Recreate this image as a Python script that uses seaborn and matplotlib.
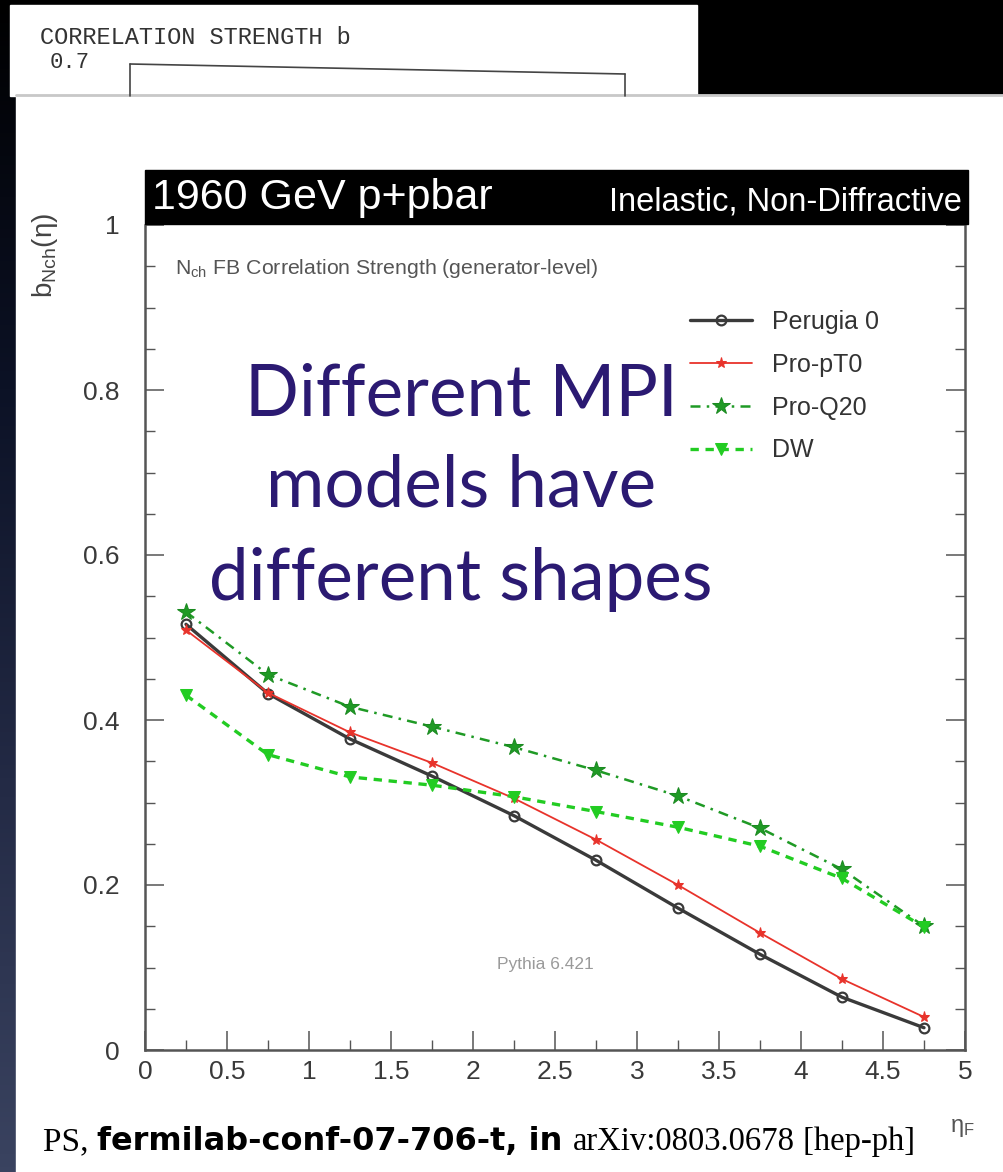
import numpy as np
import pandas as pd
import matplotlib
matplotlib.use("Agg")
import matplotlib.pyplot as plt
from matplotlib.patches import Rectangle
from matplotlib.lines import Line2D
from matplotlib.ticker import MultipleLocator
import seaborn as sns

# values
eta = [0.25, 0.75, 1.25, 1.75, 2.25, 2.75, 3.25, 3.75, 4.25, 4.75]
perugia0 = [0.516, 0.432, 0.377, 0.332, 0.284, 0.230, 0.172, 0.116, 0.064, 0.027]
pro_pt0 = [0.509, 0.433, 0.385, 0.348, 0.305, 0.255, 0.200, 0.142, 0.086, 0.040]
pro_q20 = [0.531, 0.455, 0.416, 0.392, 0.367, 0.339, 0.308, 0.269, 0.219, 0.150]
dw = [0.430, 0.358, 0.331, 0.321, 0.307, 0.289, 0.270, 0.247, 0.208, 0.149]
tunes = ["Perugia 0", "Pro-pT0", "Pro-Q20", "DW"]

xticks = [0, 0.5, 1, 1.5, 2, 2.5, 3, 3.5, 4, 4.5, 5]
xtick_labels = ["0", "0.5", "1", "1.5", "2", "2.5", "3", "3.5", "4", "4.5", "5"]
yticks = [0, 0.2, 0.4, 0.6, 0.8, 1.0]
ytick_labels = ["0", "0.2", "0.4", "0.6", "0.8", "1"]
overlay_lines = ["Different MPI", "models have", "different shapes"]

W, H = 1004, 1172


def fx(p):
    return p / W


def fy(p):
    return 1 - p / H


sns.set_theme(style="white")
plt.rcParams["font.family"] = ["Liberation Sans", "DejaVu Sans"]
plt.rcParams["mathtext.fontset"] = "custom"
plt.rcParams["mathtext.rm"] = "Liberation Sans"
plt.rcParams["mathtext.it"] = "Liberation Sans:italic"

fig = plt.figure(figsize=(W / 100, H / 100), dpi=100, facecolor="black")

# dark slide strip on the left
bg = fig.add_axes([0, 0, fx(16), 1], zorder=-3)
grad = np.linspace(0, 1, 256).reshape(-1, 1)
bg.imshow(grad, aspect="auto", cmap=matplotlib.colors.LinearSegmentedColormap.from_list(
    "slide", ["#000000", "#0c1226", "#232a45", "#3a4360"]))
bg.axis("off")

# old scanned plot fragment at the top
fig.add_artist(Rectangle((fx(10), fy(96)), fx(697) - fx(10), fy(5) - fy(96),
                         transform=fig.transFigure, color="white", zorder=-2))
fig.text(fx(40), fy(37), "CORRELATION STRENGTH b", family="Liberation Mono",
         fontsize=17, color="#333333", va="center", ha="left")
fig.text(fx(90), fy(63), "0.7", family="Liberation Mono", fontsize=16,
         color="#333333", va="center", ha="right")
for xs, ys in [((130, 625), (64, 74)), ((130, 130), (64, 96)), ((625, 625), (74, 96))]:
    fig.add_artist(Line2D([fx(xs[0]), fx(xs[1])], [fy(ys[0]), fy(ys[1])],
                          transform=fig.transFigure, color="#444444", lw=1.2))

# main white panel
fig.add_artist(Rectangle((fx(16), 0), 1 - fx(16), fy(95),
                         transform=fig.transFigure, color="white", zorder=-1))
fig.add_artist(Line2D([fx(16), 1], [fy(95), fy(95)], transform=fig.transFigure,
                      color="#c8c8c8", lw=2, zorder=-0.5))

ax = fig.add_axes([fx(145), fy(1050), fx(965) - fx(145), fy(225) - fy(1050)])
ax.set_facecolor("none")

df = pd.DataFrame({
    "eta": eta * 4,
    "b": perugia0 + pro_pt0 + pro_q20 + dw,
    "tune": np.repeat(tunes, len(eta)),
})

styles = {
    "Perugia 0": dict(color="#3a3a3a", lw=2.4, marker="o", ms=7, mfc="none",
                      mec="#3a3a3a", mew=1.6, linestyle="-"),
    "Pro-pT0": dict(color="#e8332b", lw=1.3, marker="*", ms=8, mec="#e8332b",
                    linestyle="-"),
    "Pro-Q20": dict(color="#1f9a25", lw=1.8, marker="*", ms=13, mec="#1a8a20",
                    linestyle=(0, (4, 2.5, 1, 2.5))),
    "DW": dict(color="#22cc22", lw=2.4, marker="v", ms=8, mec="#22cc22",
               linestyle=(0, (2.5, 2))),
}

for t in tunes:
    sns.lineplot(data=df[df["tune"] == t], x="eta", y="b", ax=ax, label=t,
                 errorbar=None, sort=False, **styles[t])

ax.set_xlim(0, 5)
ax.set_ylim(0, 1.0)
ax.set_xticks(xticks, xtick_labels)
ax.set_yticks(yticks, ytick_labels)
ax.xaxis.set_minor_locator(MultipleLocator(0.25))
ax.yaxis.set_minor_locator(MultipleLocator(0.05))
ax.tick_params(which="both", direction="in", colors="#555555", labelcolor="#3a3a3a",
               labelsize=19, right=True, left=True, bottom=True, top=False)
ax.tick_params(which="major", length=14, width=1.1)
ax.tick_params(which="minor", length=7, width=1.0)
ax.tick_params(axis="y", which="both", pad=18)
ax.tick_params(axis="x", which="both", pad=7)
ax.set_xlabel("")
ax.set_ylabel("")
for side, sp in ax.spines.items():
    sp.set_color("#555555")
    sp.set_linewidth(1.8)
ax.spines["top"].set_visible(False)

leg = ax.legend(loc="upper left", bbox_to_anchor=(fx(690), fy(310)),
                bbox_transform=fig.transFigure, frameon=False, fontsize=18,
                labelspacing=0.75, handlelength=2.5, handletextpad=0.8,
                borderpad=0, borderaxespad=0)
for txt in leg.get_texts():
    txt.set_color("#333333")

# header box
fig.add_artist(Rectangle((fx(145), fy(224)), fx(968) - fx(145), fy(170) - fy(224),
                         transform=fig.transFigure, color="black", zorder=3))
fig.text(fx(152), fy(198), "1960 GeV p+pbar", color="white", fontsize=31,
         va="center", ha="left", zorder=4)
fig.text(fx(962), fy(202), "Inelastic, Non-Diffractive", color="white", fontsize=23.5,
         va="center", ha="right", zorder=4)

fig.text(fx(175), fy(268), r"N$_{\mathrm{ch}}$ FB Correlation Strength (generator-level)",
         color="#555555", fontsize=15.3, va="center", ha="left")
fig.text(fx(45), fy(255), r"b$_{\mathrm{Nch}}$(η)", color="#444444", fontsize=20,
         rotation=90, va="center", ha="center")
fig.text(fx(545), fy(965), "Pythia 6.421", color="#9a9a9a", fontsize=12.5,
         va="center", ha="center")
fig.text(fx(962), fy(1128), r"η$_{\mathrm{F}}$", color="#555555", fontsize=17,
         va="center", ha="center")

# overlay caption
for line, base in zip(overlay_lines, [415, 507, 600]):
    fig.text(fx(461), fy(base), line, family="Lato", fontsize=51, color="#2b1a72",
             va="baseline", ha="center", zorder=5)

# citation line, pieces placed one after another
renderer = fig.canvas.get_renderer()
pieces = [("PS, ", dict(family="Liberation Serif", fontsize=24)),
          ("fermilab-conf-07-706-t, in ", dict(family="DejaVu Sans",
                                              weight="bold", fontsize=23)),
          ("arXiv:0803.0678", dict(family="Liberation Serif", fontsize=23.5)),
          (" [hep-ph]", dict(family="Liberation Serif", fontsize=23.5))]
xpos = fx(43)
for s, kw in pieces:
    t = fig.text(xpos, fy(1150), s, color="black", va="baseline", ha="left", **kw)
    bb = t.get_window_extent(renderer=renderer)
    xpos += bb.width / W

fig.savefig("out.png", dpi=100, facecolor=fig.get_facecolor())
